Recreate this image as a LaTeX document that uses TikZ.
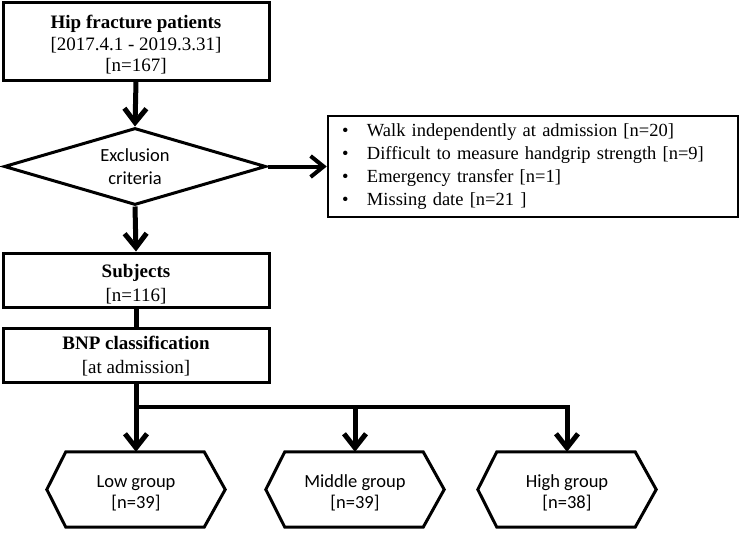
\documentclass[tikz,border=0pt]{standalone}
\usepackage{fontspec}
\setmainfont{Liberation Serif}
\newfontfamily\calfont{Carlito}
\usetikzlibrary{arrows.meta,shapes.geometric}
\begin{document}
\begin{tikzpicture}[x=1pt,y=-1pt,
  box/.style={draw, line width=3pt, rectangle, align=center, inner sep=0pt,
    minimum width=266pt, font=\fontsize{19}{22.5}\selectfont},
  conn/.style={line width=5pt, -{Straight Barb[length=14pt,width=22pt]}},
  sideconn/.style={line width=4pt, -{Straight Barb[length=13pt,width=21pt]}},
  link/.style={line width=5pt},
  hline/.style={line width=3.5pt},
  grp/.style={rectangle, draw=none, align=center, inner sep=0pt,
    minimum width=178pt, minimum height=75pt},
  grptext/.style={align=center, inner sep=0pt, font=\calfont\fontsize{18.5}{21}\selectfont},
  boxtext/.style={align=center, inner sep=0pt},
  hexa/.style={line width=3pt, line join=miter}
]
\useasboundingbox (0,0) rectangle (740,536);

\node[box, minimum height=78pt] (top) at (136,41) {};
\node[boxtext, font=\fontsize{19}{21.5}\selectfont] (toptext) at (136,45)
  {\textbf{Hip fracture patients}\\{[2017.4.1 - 2019.3.31]}\\{[n=167]}};

\node[diamond, draw, line width=3pt, minimum width=262pt, minimum height=77pt,
  aspect=3.4, inner sep=0pt, align=center, font=\calfont\fontsize{18.5}{23}\selectfont]
  (diam) at (135,166.5) {Exclusion\\criteria};

\node[draw, line width=2.5pt, rectangle, minimum width=410pt, minimum height=101pt,
  inner xsep=14pt, inner ysep=0pt, text width=382pt, align=left,
  font=\fontsize{18.5}{23}\selectfont] (excl) at (533,166.5)
  {\makebox[25pt][l]{•}Walk independently at admission [n=20]\\
   \makebox[25pt][l]{•}Difficult to measure handgrip strength [n=9]\\
   \makebox[25pt][l]{•}Emergency transfer [n=1]\\
   \makebox[25pt][l]{•}Missing date [n=21 ]};

\node[box, minimum height=54pt] (subj) at (136,280) {};
\node[boxtext, font=\fontsize{19}{23.5}\selectfont] (subjtext) at (136,284)
  {\textbf{Subjects}\\{[n=116]}};
\node[box, minimum height=54pt] (bnp) at (136,355) {};
\node[boxtext, font=\fontsize{19}{24}\selectfont] (bnptext) at (136,356)
  {\textbf{BNP classification}\\{[at admission]}};

\node[grp] (low) at (136,489.5) {};
\node[grp] (mid) at (355,489.5) {};
\node[grp] (high) at (567,489.5) {};
\node[grptext] (lowtext) at (136,493) {Low group\\{[n=39]}};
\node[grptext] (midtext) at (355,493) {Middle group\\{[n=39]}};
\node[grptext] (hightext) at (567,493) {High group\\{[n=38]}};

\foreach \n in {low,mid,high}
  \draw[hexa] (\n.west) -- ([xshift=19pt]\n.north west) -- ([xshift=-21pt]\n.north east)
    -- (\n.east) -- ([xshift=-21pt]\n.south east) -- ([xshift=19pt]\n.south west) -- cycle;

\coordinate (split) at (136,407);
\coordinate (midsplit) at (mid.north |- split);
\coordinate (highsplit) at (high.north |- split);

\draw[conn] (top.south) -- (diam.north);
\draw[sideconn] (diam.east) -- (excl.west);
\draw[conn] (diam.south) -- (subj.north);
\draw[link] (subj.south) -- (bnp.north);
\draw[conn] (bnp.south) -- (low.north);
\draw[hline] (split) -- ([xshift=1.75pt]highsplit);
\draw[conn] ([yshift=1.75pt]highsplit) -- (high.north);
\draw[conn] (midsplit) -- (mid.north);
\end{tikzpicture}
\end{document}
